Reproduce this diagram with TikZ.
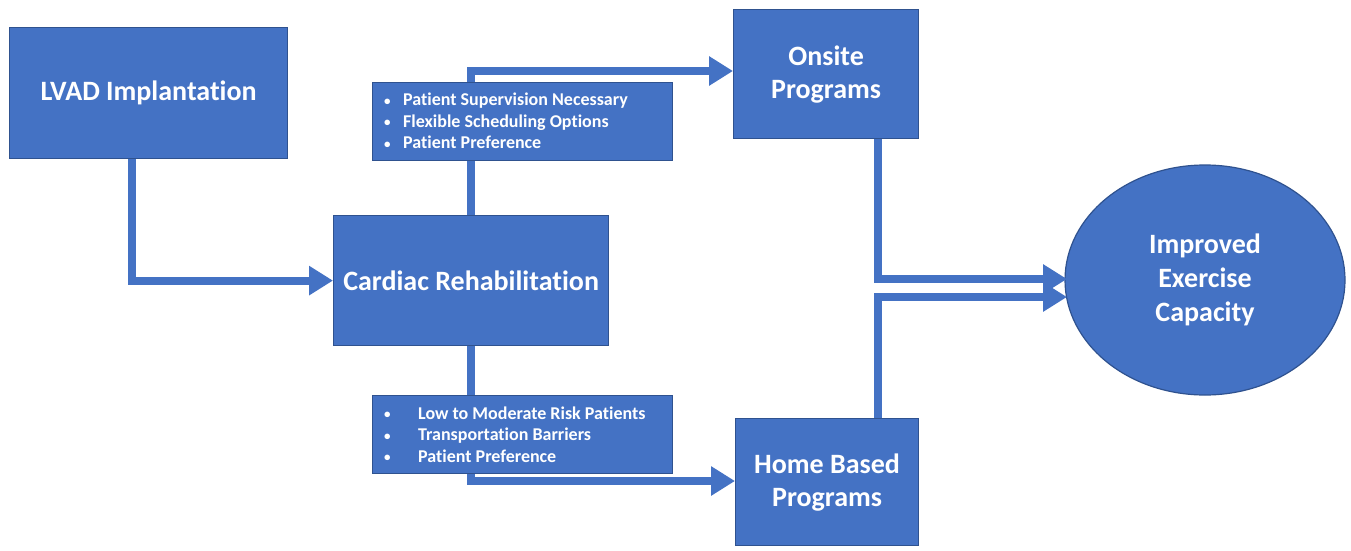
\documentclass[tikz,border=0pt]{standalone}
\usepackage{fontspec}
\setmainfont{Carlito}[Ligatures=NoCommon]
\usetikzlibrary{arrows.meta,shapes.geometric}
\definecolor{boxblue}{RGB}{68,114,196}
\definecolor{edgeblue}{RGB}{47,82,143}
\newcommand{\dotmark}[1]{\makebox[#1][l]{\hspace{1pt}\raisebox{0.5pt}{\fontsize{13}{13}\selectfont•}}}
\begin{document}
\begin{tikzpicture}[x=1pt,y=-1pt,
  box/.style={draw=edgeblue, line width=1.2pt, fill=boxblue, text=white,
    font=\fontsize{28}{33}\selectfont\bfseries, align=center,
    inner sep=0pt, anchor=north west},
  notebox/.style={draw=edgeblue, line width=1.2pt, fill=boxblue, inner sep=0pt, anchor=north west},
  notetext/.style={text=white, font=\fontsize{18}{21.7}\selectfont\bfseries, align=left,
    inner sep=0pt, anchor=west},
  conn/.style={draw=boxblue, line width=8pt, line join=miter,
    -{Triangle[length=24pt,width=28pt]}}]
  \path[fill=white] (0,0) rectangle (1351,551);
  \useasboundingbox (0,0) rectangle (1351,551);

  % main boxes
  \node[box, minimum width=278pt, minimum height=131pt] (lvad) at (9,27) {LVAD Implantation};
  \node[box, minimum width=275pt, minimum height=130pt] (rehab) at (333,215) {Cardiac Rehabilitation};
  \node[box, minimum width=185pt, minimum height=129pt] (onsite) at (733,9) {Onsite\\Programs};
  \node[box, minimum width=183pt, minimum height=127pt] (home) at (735,418) {Home Based\\Programs};
  \node[ellipse, draw=edgeblue, line width=1.2pt, fill=boxblue, text=white,
    font=\fontsize{28}{34}\selectfont\bfseries, align=center,
    minimum width=280pt, minimum height=230pt, inner sep=0pt] (gain) at (1205,280)
    {Improved\\Exercise\\Capacity};

  % connectors
  \coordinate (g1) at (1067,279);
  \coordinate (g2) at (1067,297);
  \draw[conn] (lvad.south -| 132,0) |- (rehab.west);
  \draw[conn] (rehab.north) |- (onsite.west |- 0,71);
  \draw[conn] (rehab.south) |- (home.west |- 0,481);
  \draw[conn] (onsite.south -| 878,0) |- (g1);
  \draw[conn] (home.north -| 878,0) |- (g2);

  % criteria notes
  \node[notebox, minimum width=300pt, minimum height=78pt] (upper) at (372,82) {};
  \node[notetext] (uppertext) at (383,121)
    {\dotmark{20pt}Patient Supervision Necessary\\
     \dotmark{20pt}Flexible Scheduling Options\\
     \dotmark{20pt}Patient Preference};
  \node[notebox, minimum width=300pt, minimum height=78pt] (lower) at (372,395) {};
  \node[notetext] (lowertext) at (383,434.5)
    {\dotmark{35pt}Low to Moderate Risk Patients\\
     \dotmark{35pt}Transportation Barriers\\
     \dotmark{35pt}Patient Preference};
\end{tikzpicture}
\end{document}
